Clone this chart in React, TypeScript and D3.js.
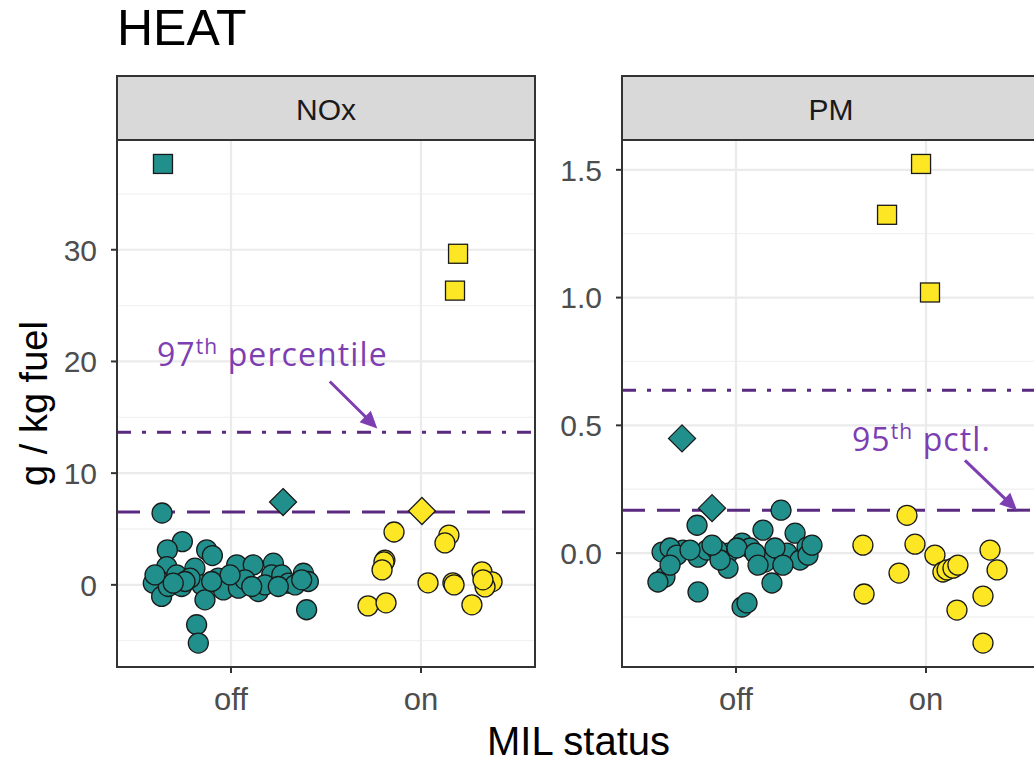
import React from 'react';
import * as d3 from 'd3';

// MIL status levels and facet names
const milLevels = ['off', 'on'];
const pollutants = ['NOx', 'PM'];

// points as [jitter (category units), value]
const noxOffCircles = [
  [-0.363, 6.43], [-0.256, 3.87], [-0.335, 3.13], [-0.128, 3.13], [-0.098, 2.62],
  [-0.338, 1.64], [-0.382, 0.45], [-0.409, 0.15], [-0.365, -1.04], [-0.33, -0.15],
  [-0.26, -0.15], [-0.286, 0.89], [-0.19, 1.49], [-0.154, 0], [-0.137, -1.34],
  [-0.216, 0.6], [-0.067, 0.6], [-0.04, -0.45], [0.03, 1.79], [0.039, -0.3],
  [0.117, 1.79], [0.074, 0.45], [0.144, -0.6], [0.223, 1.94], [0.214, 0.89],
  [0.179, 0], [0.267, 0.89], [0.302, 0.15], [0.381, 1.04], [0.407, 0.3],
  [0.398, -2.23], [-0.181, -3.57], [-0.172, -5.21], [0.337, 0], [-0.005, 0.89],
  [0.109, -0.15], [-0.4, 0.89], [-0.242, 0.3], [-0.102, 0.3], [0.249, -0.15],
  [0.372, 0.45], [-0.304, 0.15],
];
const noxOffDiamonds = [[0.274, 7.41]];
const noxOffSquares = [[-0.358, 37.68]];

const noxOnCircles = [
  [-0.142, 4.73], [0.147, 4.46], [0.126, 3.75], [-0.19, 2.2], [-0.195, 2.05],
  [-0.205, 1.34], [0.037, 0.18], [0.168, 0.18], [0.174, 0], [0.321, 1.16],
  [0.374, 0.27], [0.337, -0.18], [0.326, 0.45], [0.268, -1.79], [-0.279, -1.88],
  [-0.184, -1.61],
];
const noxOnDiamonds = [[0.005, 6.61]];
const noxOnSquares = [[0.195, 29.64], [0.179, 26.34]];

const pmOffCircles = [
  [0.237, 0.168], [-0.205, 0.109], [0.142, 0.09], [0.311, 0.078], [-0.389, 0.004],
  [-0.279, 0.012], [-0.2, -0.016], [-0.153, 0.012], [-0.042, 0], [0.032, 0.039],
  [0.074, 0.02], [0.153, -0.035], [0.268, 0], [0.337, -0.027], [0.374, 0.023],
  [-0.042, -0.059], [-0.374, -0.094], [-0.411, -0.113], [-0.2, -0.152], [0.189, -0.117],
  [0.032, -0.211], [0.058, -0.195], [-0.347, 0.02], [-0.311, -0.008], [-0.242, 0.012],
  [-0.1, 0.012], [0.005, 0.02], [0.1, 0], [0.205, 0.02], [0.379, -0.008],
  [0.4, 0.031], [-0.084, -0.027], [0.116, -0.047], [0.247, -0.047], [-0.347, -0.047],
  [-0.126, 0.031],
];
const pmOffDiamonds = [[-0.284, 0.449], [-0.126, 0.176]];
const pmOffSquares: number[][] = [];

const pmOnCircles = [
  [-0.1, 0.148], [-0.332, 0.031], [-0.058, 0.035], [0.047, -0.008], [0.337, 0.012],
  [-0.142, -0.078], [0.089, -0.074], [0.111, -0.066], [0.142, -0.059], [0.168, -0.047],
  [0.374, -0.066], [-0.326, -0.16], [0.3, -0.168], [0.163, -0.223], [0.3, -0.352],
];
const pmOnDiamonds: number[][] = [];
const pmOnSquares = [[-0.026, 1.523], [-0.205, 1.324], [0.021, 1.02]];

// reference lines: [97th / dot-dash, 95th / dashed]
const noxPercentiles = [13.66, 6.52];
const pmPercentiles = [0.637, 0.168];

const noxTicks = [0, 10, 20, 30];
const noxMinor = [-5, 5, 15, 25, 35];
const pmTicks = [0, 0.5, 1.0, 1.5];
const pmMinor = [-0.25, 0.25, 0.75, 1.25];

const W = 1034, H = 763;
const panelTop = 140, panelBottom = 667, stripTop = 76;
const panelW = 418;
const panelLefts = [117, 622];
const teal = '#21908C', yellow = '#FDE725';
const lineCol = '#5A2A80', noteCol = '#7D3EB2';
const sans = '"Liberation Sans", Arial, sans-serif';
const noteFont = '"Open Sans", Lato, sans-serif';

type Group = { mil: string; circles: number[][]; diamonds: number[][]; squares: number[][] };

const panels = [
  {
    name: pollutants[0], ticks: noxTicks, minor: noxMinor, pct: noxPercentiles,
    fmt: d3.format('d'),
    groups: [
      { mil: milLevels[0], circles: noxOffCircles, diamonds: noxOffDiamonds, squares: noxOffSquares },
      { mil: milLevels[1], circles: noxOnCircles, diamonds: noxOnDiamonds, squares: noxOnSquares },
    ] as Group[],
    note: { label: '97', sup: 'th', rest: ' percentile', tx: 0.61, ty: 19.6, ax0: 1.52, ay0: 18.2, ax1: 1.77, ay1: 14.0 },
  },
  {
    name: pollutants[1], ticks: pmTicks, minor: pmMinor, pct: pmPercentiles,
    fmt: d3.format('.1f'),
    groups: [
      { mil: milLevels[0], circles: pmOffCircles, diamonds: pmOffDiamonds, squares: pmOffSquares },
      { mil: milLevels[1], circles: pmOnCircles, diamonds: pmOnDiamonds, squares: pmOnSquares },
    ] as Group[],
    note: { label: '95', sup: 'th', rest: ' pctl.', tx: 1.61, ty: 0.40, ax0: 2.205, ay0: 0.363, ax1: 2.479, ay1: 0.168 },
  },
];

const diamondPath = (() => {
  const p = d3.path();
  const h = 13.5;
  p.moveTo(0, -h); p.lineTo(h, 0); p.lineTo(0, h); p.lineTo(-h, 0); p.closePath();
  return p.toString();
})();

function Panel({ p, left }: { p: typeof panels[number]; left: number }) {
  const vals = p.groups.flatMap(g => [...g.circles, ...g.diamonds, ...g.squares].map(d => d[1]));
  const [lo, hi] = d3.extent(vals) as [number, number];
  const pad = (hi - lo) * 0.05;
  const y = d3.scaleLinear().domain([lo - pad, hi + pad]).range([panelBottom, panelTop]);
  // continuous x in category units (off = 1, on = 2) with 0.6 expansion
  const xu = d3.scaleLinear().domain([0.4, 2.6]).range([left, left + panelW]);
  const colorOf = (mil: string) => (mil === 'off' ? teal : yellow);
  const xOf = (mil: string, j: number) => xu(milLevels.indexOf(mil) + 1 + j);
  const n = p.note;
  const ax0 = xu(n.ax0), ay0 = y(n.ay0), ax1 = xu(n.ax1), ay1 = y(n.ay1);
  const ang = Math.atan2(ay1 - ay0, ax1 - ax0);
  const hl = 17, hw = 8;
  const head = [
    [ax1, ay1],
    [ax1 - hl * Math.cos(ang) + hw * Math.sin(ang), ay1 - hl * Math.sin(ang) - hw * Math.cos(ang)],
    [ax1 - hl * Math.cos(ang) - hw * Math.sin(ang), ay1 - hl * Math.sin(ang) + hw * Math.cos(ang)],
  ];
  return (
    <g>
      <defs>
        <clipPath id={'clip-' + p.name}>
          <rect x={left} y={panelTop} width={panelW} height={panelBottom - panelTop} />
        </clipPath>
      </defs>
      <rect x={left} y={panelTop} width={panelW} height={panelBottom - panelTop} fill="#fff" />
      <g clipPath={`url(#clip-${p.name})`}>
        {p.minor.map(t => (
          <line key={'mi' + t} x1={left} x2={left + panelW} y1={y(t)} y2={y(t)} stroke="#F2F2F2" strokeWidth={1.3} />
        ))}
        {p.ticks.map(t => (
          <line key={'ma' + t} x1={left} x2={left + panelW} y1={y(t)} y2={y(t)} stroke="#EBEBEB" strokeWidth={2.2} />
        ))}
        {milLevels.map((m, i) => (
          <line key={m} x1={xu(i + 1)} x2={xu(i + 1)} y1={panelTop} y2={panelBottom} stroke="#EBEBEB" strokeWidth={2.2} />
        ))}
        <line x1={left} x2={left + panelW} y1={y(p.pct[0])} y2={y(p.pct[0])} stroke={lineCol} strokeWidth={3} strokeDasharray="14 11 4 11" />
        <line x1={left} x2={left + panelW} y1={y(p.pct[1])} y2={y(p.pct[1])} stroke={lineCol} strokeWidth={3} strokeDasharray="23 12" />
        {p.groups.map(g => (
          <g key={g.mil} fill={colorOf(g.mil)} stroke="#1a1a1a" strokeWidth={1.3}>
            {g.circles.map((d, i) => (
              <circle key={'c' + i} cx={xOf(g.mil, d[0])} cy={y(d[1])} r={10} />
            ))}
            {g.diamonds.map((d, i) => (
              <path key={'d' + i} d={diamondPath} transform={`translate(${xOf(g.mil, d[0])},${y(d[1])})`} />
            ))}
            {g.squares.map((d, i) => (
              <rect key={'s' + i} x={xOf(g.mil, d[0]) - 9.5} y={y(d[1]) - 9.5} width={19} height={19} />
            ))}
          </g>
        ))}
        <text x={xu(n.tx)} y={y(n.ty)} fill={noteCol} fontFamily={noteFont} fontSize={32} letterSpacing={1.1}>
          {n.label}
          <tspan fontSize={21} dy={-12}>{n.sup}</tspan>
          <tspan dy={12}>{n.rest}</tspan>
        </text>
        <line x1={ax0} y1={ay0} x2={ax1 - 12 * Math.cos(ang)} y2={ay1 - 12 * Math.sin(ang)} stroke={noteCol} strokeWidth={3} />
        <polygon points={head.map(q => q.join(',')).join(' ')} fill={noteCol} />
      </g>
      <rect x={left} y={panelTop} width={panelW} height={panelBottom - panelTop} fill="none" stroke="#333" strokeWidth={2} />
      {/* strip */}
      <rect x={left} y={stripTop} width={panelW} height={panelTop - stripTop} fill="#D9D9D9" stroke="#333" strokeWidth={2} />
      <text x={left + panelW / 2} y={120} textAnchor="middle" fontFamily={sans} fontSize={30} fill="#1A1A1A">{p.name}</text>
      {/* y axis */}
      {p.ticks.map(t => (
        <g key={'yt' + t}>
          <line x1={left - 6} x2={left} y1={y(t)} y2={y(t)} stroke="#333" strokeWidth={2} />
          <text x={left - 20} y={y(t)} dy="0.36em" textAnchor="end" fontFamily={sans} fontSize={30} fill="#4D4D4D">{p.fmt(t)}</text>
        </g>
      ))}
      {/* x axis */}
      {milLevels.map((m, i) => (
        <g key={'xt' + m}>
          <line x1={xu(i + 1)} x2={xu(i + 1)} y1={panelBottom} y2={panelBottom + 6} stroke="#333" strokeWidth={2} />
          <text x={xu(i + 1)} y={panelBottom + 43} textAnchor="middle" fontFamily={sans} fontSize={31} fill="#4D4D4D">{m}</text>
        </g>
      ))}
    </g>
  );
}

export default function App() {
  return (
    <svg width={W} height={H} style={{ position: 'absolute', left: 0, top: 0, background: '#fff' }}>
      <rect width={W} height={H} fill="#fff" />
      <text x={117} y={45} fontFamily={sans} fontSize={50} fill="#000">HEAT</text>
      {panels.map((p, i) => (
        <Panel key={p.name} p={p} left={panelLefts[i]} />
      ))}
      <text x={(panelLefts[0] + panelLefts[1] + panelW) / 2} y={755} textAnchor="middle" fontFamily={sans} fontSize={40} fill="#000">MIL status</text>
      <text transform={`translate(47,${(panelTop + panelBottom) / 2}) rotate(-90)`} textAnchor="middle" fontFamily={sans} fontSize={38} fill="#000">g / kg fuel</text>
    </svg>
  );
}
